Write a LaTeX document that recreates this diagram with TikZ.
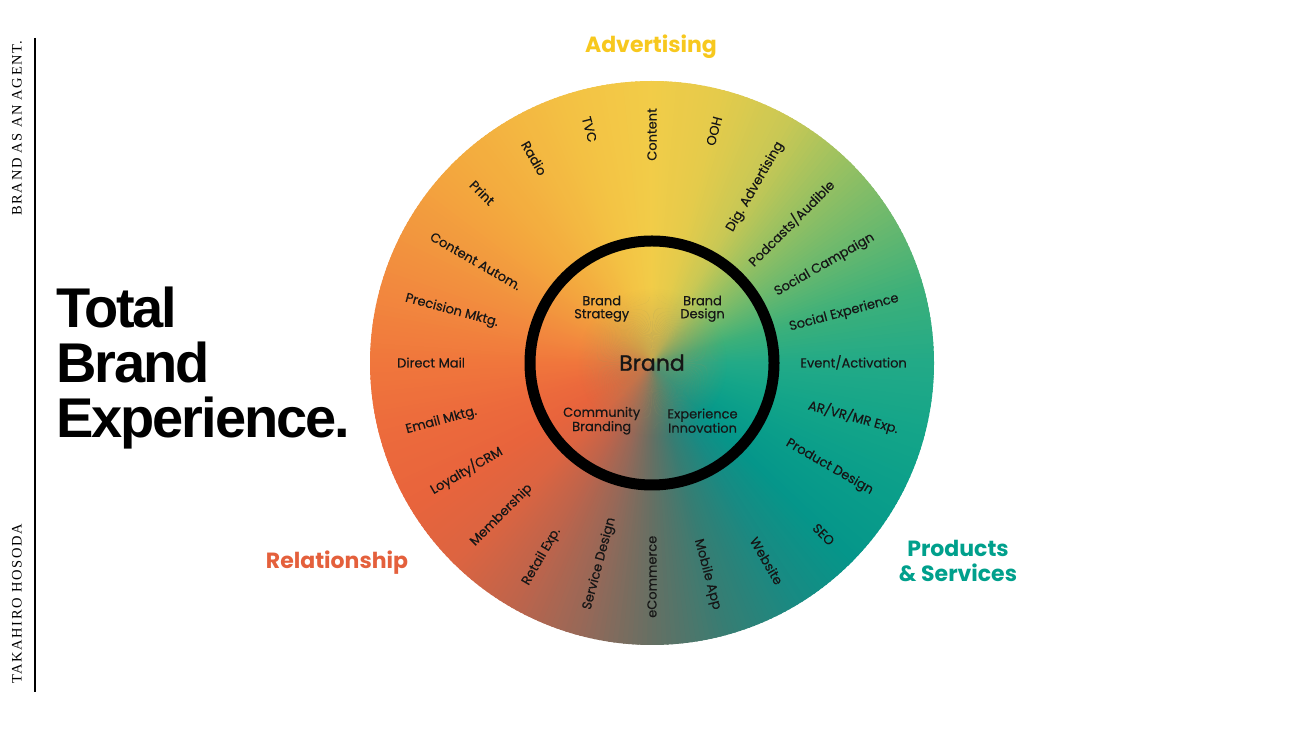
\documentclass[tikz,border=0pt]{standalone}
\usepackage{fontspec}
\usetikzlibrary{fadings}
\setmainfont{Poppins}
\newfontfamily\pop[FakeBold=0.3]{Poppins}
\newfontfamily\popM[FakeBold=1.2]{Poppins}
\newfontfamily\helv[LetterSpace=-3.7]{Liberation Sans}
\newfontfamily\tms[LetterSpace=11]{Liberation Serif}
\definecolor{k0}{RGB}{35,170,135}
\definecolor{k15}{RGB}{60,176,122}
\definecolor{k30}{RGB}{105,184,110}
\definecolor{k45}{RGB}{150,192,98}
\definecolor{k60}{RGB}{200,200,85}
\definecolor{k75}{RGB}{228,203,75}
\definecolor{k90}{RGB}{242,204,72}
\definecolor{k105}{RGB}{243,195,68}
\definecolor{k120}{RGB}{243,182,65}
\definecolor{k135}{RGB}{243,168,62}
\definecolor{k150}{RGB}{242,152,62}
\definecolor{k165}{RGB}{242,135,62}
\definecolor{k180}{RGB}{240,118,60}
\definecolor{k195}{RGB}{236,106,60}
\definecolor{k210}{RGB}{232,100,60}
\definecolor{k225}{RGB}{220,100,65}
\definecolor{k240}{RGB}{190,100,75}
\definecolor{k255}{RGB}{150,104,88}
\definecolor{k270}{RGB}{100,112,100}
\definecolor{k285}{RGB}{55,125,115}
\definecolor{k300}{RGB}{25,138,130}
\definecolor{k315}{RGB}{5,150,138}
\definecolor{k330}{RGB}{10,158,138}
\definecolor{k345}{RGB}{20,165,137}
\definecolor{under}{RGB}{150,150,100}
\definecolor{midc}{RGB}{165,140,88}
\definecolor{txt}{RGB}{22,22,22}
\definecolor{advY}{RGB}{247,200,30}
\definecolor{relO}{RGB}{228,96,60}
\definecolor{prodT}{RGB}{0,160,140}
\tikzfading[name=cfade, inner color=transparent!45, outer color=transparent!100]
\newcommand\labR[3]{\node[lab,anchor=east,rotate=#1] (#2) at ([shift={(#1:255)}]C) {#3};}
\newcommand\labL[3]{\node[lab,anchor=west,rotate={#1-180}] (#2) at ([shift={(#1:255)}]C) {#3};}
\begin{document}
\begin{tikzpicture}[x=1pt,y=1pt,
  lab/.style={inner sep=0pt,text=txt,font=\pop\fontsize{13}{13}\selectfont,text height=9,text depth=0},
  inlab/.style={inner sep=0pt,text=txt,align=center,font=\pop\fontsize{13}{13}\selectfont},
  sect/.style={inner sep=0pt,anchor=base,font=\setmainfont{Poppins}\bfseries\fontsize{22}{22}\selectfont},
  ttl/.style={inner sep=0pt,anchor=base west,font=\helv\bfseries\fontsize{56}{56}\selectfont},
  side/.style={inner sep=0pt,rotate=90,font=\tms\fontsize{14.5}{14.5}\selectfont}]
\useasboundingbox (0,0) rectangle (1300,730);
\coordinate (C) at (652,367);
% underlay to hide seams
\fill[under] (C) circle[radius=281.5];
% conic gradient wheel
\foreach \a/\ca/\cb in {0/k0/k15,15/k15/k30,30/k30/k45,45/k45/k60,60/k60/k75,75/k75/k90,90/k90/k105,105/k105/k120,120/k120/k135,135/k135/k150,150/k150/k165,165/k165/k180,180/k180/k195,195/k195/k210,210/k210/k225,225/k225/k240,240/k240/k255,255/k255/k270,270/k270/k285,285/k285/k300,300/k300/k315,315/k315/k330,330/k330/k345,345/k345/k0}{
  \foreach \s in {0,...,14}{
    \pgfmathsetmacro\p{100*\s/15}
    \pgfmathsetmacro\ang{\a+\s}
    \fill[\cb!\p!\ca] (C) -- +(\ang:282) arc[start angle=\ang, delta angle=1.4, radius=282] -- cycle;
  }
}
% soft blend at the centre
\fill[midc, path fading=cfade] (C) circle[radius=75];
% inner ring
\node[circle,draw=black,line width=11,minimum size=244,inner sep=0] (ring) at (C) {};
% outer labels
\labR{0}{l0}{Event/Activation}
\labR{15}{l15}{Social Experience}
\labR{30}{l30}{Social Campaign}
\labR{45}{l45}{Podcasts/Audible}
\labR{60}{l60}{Dig. Advertising}
\labR{75}{l75}{OOH}
\labR{90}{l90}{Content}
\labL{105}{l105}{TVC}
\labL{120}{l120}{Radio}
\labL{135}{l135}{Print}
\labL{150}{l150}{Content Autom.}
\labL{165}{l165}{Precision Mktg.}
\labL{180}{l180}{Direct Mail}
\labL{195}{l195}{Email Mktg.}
\labL{210}{l210}{Loyalty/CRM}
\labL{225}{l225}{Membership}
\labL{240}{l240}{Retail Exp.}
\labL{255}{l255}{Service Design}
\labL{270}{l270}{eCommerce}
\labR{285}{l285}{Mobile App}
\labR{300}{l300}{Website}
\labR{315}{l315}{SEO}
\labR{330}{l330}{Product Design}
\labR{345}{l345}{AR/VR/MR Exp.}
% inner labels
\node[inlab] (bs) at (601.7,421.3) {Brand\\Strategy};
\node[inlab] (bd) at (702.5,421.3) {Brand\\Design};
\node[inlab] (cb) at (601.7,309.3) {Community\\Branding};
\node[inlab] (ei) at (702.5,309.3) {Experience\\Innovation};
\node[inner sep=0pt,text=txt,font=\popM\fontsize{22}{22}\selectfont] (brand) at (652,367.3) {Brand};
% section titles
\node[sect,text=advY] (adv) at (651,677) {Advertising};
\node[sect,text=relO] (rel) at (337,161) {Relationship};
\node[sect,text=prodT] (ps1) at (958,173) {Products};
\node[sect,text=prodT] (ps2) at (958,148) {\& Services};
% title
\node[ttl] (t1) at (56,402) {Total};
\node[ttl] (t2) at (56,347) {Brand};
\node[ttl] (t3) at (56,292) {Experience.};
% side
\draw[line width=1.3] (35,692) -- (35,38);
\node[side] (s1) at (17,602) {BRAND AS AN AGENT.};
\node[side] (s2) at (17,126) {TAKAHIRO HOSODA};
\end{tikzpicture}
\end{document}
